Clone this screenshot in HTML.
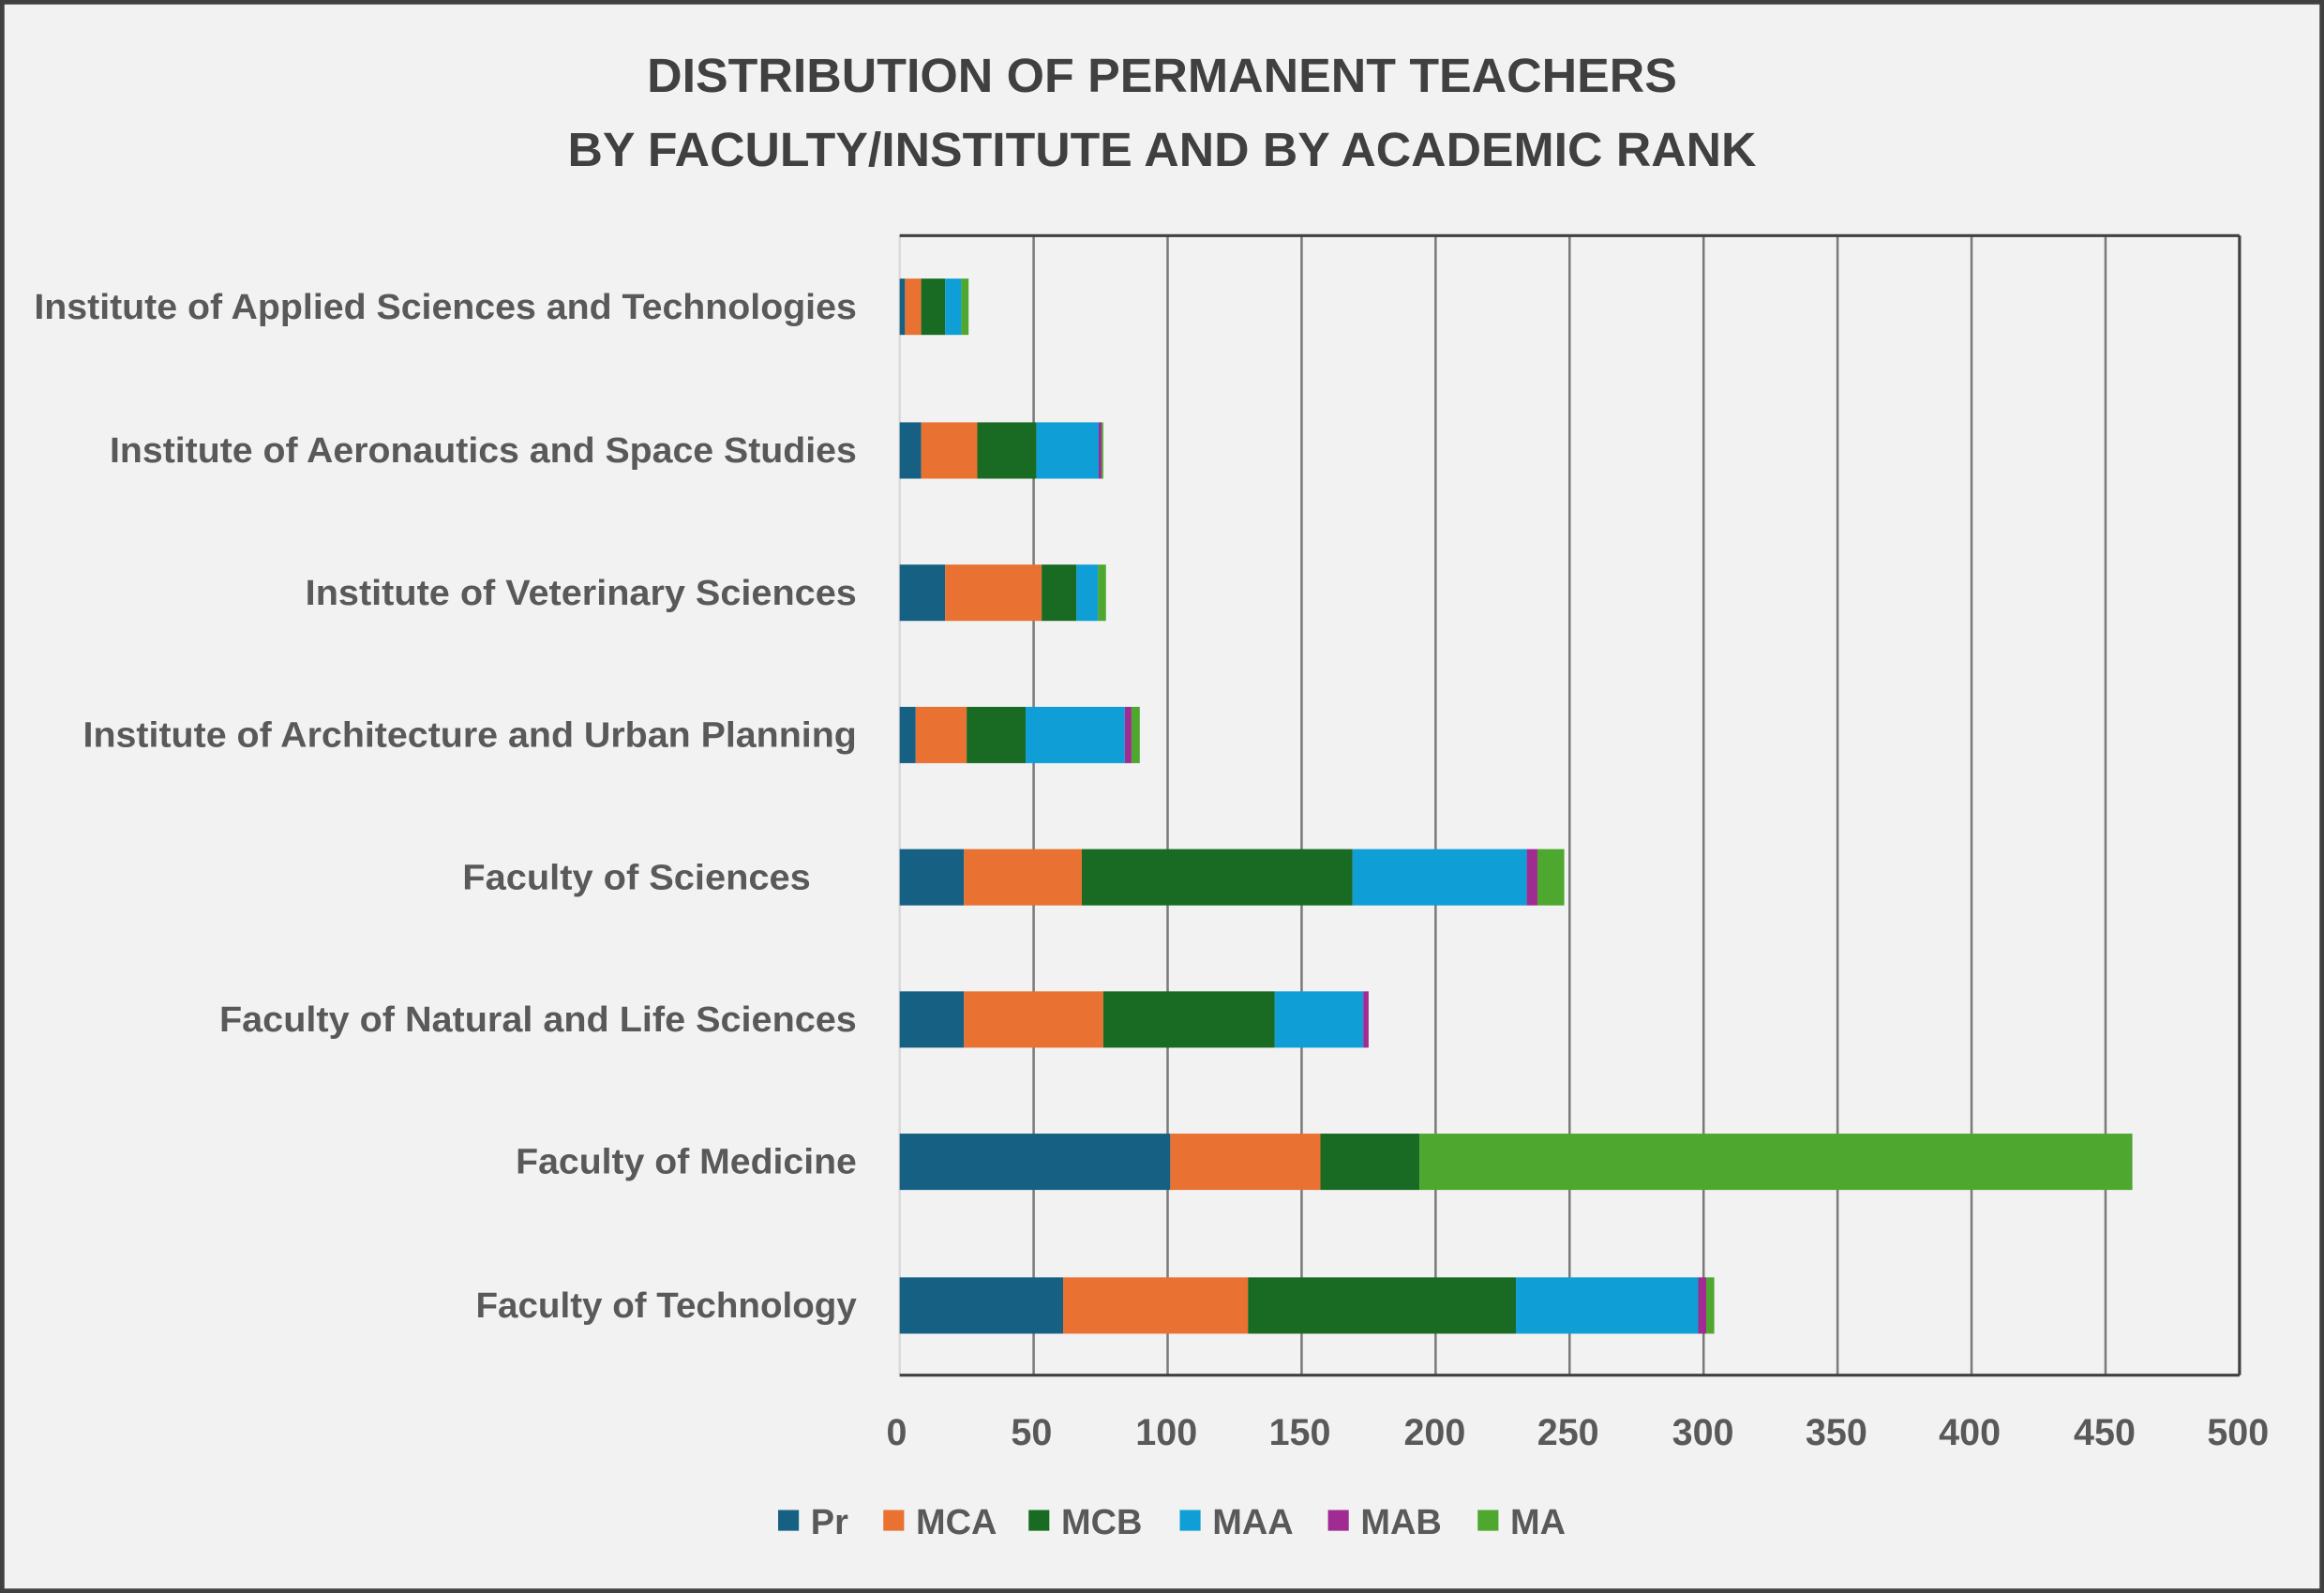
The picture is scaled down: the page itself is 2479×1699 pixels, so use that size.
<!DOCTYPE html>
<html><head><meta charset="utf-8"><style>
html,body{margin:0;padding:0;background:#f2f2f2;}
svg{display:block;}
text{font-family:"Liberation Sans Narrow","Liberation Sans",sans-serif;font-weight:bold;}
</style></head><body>
<svg width="2479" height="1699" viewBox="0 0 1568 1075" preserveAspectRatio="none" xmlns="http://www.w3.org/2000/svg">
<rect x="0" y="0" width="1568" height="1075" fill="#f2f2f2"/>
<rect x="1.5" y="1.5" width="1565" height="1072" fill="none" stroke="#404040" stroke-width="3"/>
<text x="784" y="62" text-anchor="middle" font-size="32" fill="#404040" font-family="Liberation Sans" textLength="695" lengthAdjust="spacingAndGlyphs">DISTRIBUTION OF PERMANENT TEACHERS</text>
<text x="784" y="112" text-anchor="middle" font-size="32" fill="#404040" font-family="Liberation Sans" textLength="802" lengthAdjust="spacingAndGlyphs">BY FACULTY/INSTITUTE AND BY ACADEMIC RANK</text>
<g stroke="#7a7a7a" stroke-width="1.6">
<line x1="697.4" y1="159" x2="697.4" y2="928"/><line x1="787.8" y1="159" x2="787.8" y2="928"/>
<line x1="878.2" y1="159" x2="878.2" y2="928"/><line x1="968.6" y1="159" x2="968.6" y2="928"/>
<line x1="1059" y1="159" x2="1059" y2="928"/><line x1="1149.4" y1="159" x2="1149.4" y2="928"/>
<line x1="1239.8" y1="159" x2="1239.8" y2="928"/><line x1="1330.2" y1="159" x2="1330.2" y2="928"/>
<line x1="1420.6" y1="159" x2="1420.6" y2="928"/>
</g>
<line x1="607" y1="159" x2="607" y2="928" stroke="#d9d9d9" stroke-width="1.5"/>
<line x1="607" y1="159" x2="1511" y2="159" stroke="#404040" stroke-width="2"/>
<line x1="1511" y1="159" x2="1511" y2="928" stroke="#404040" stroke-width="2"/>
<line x1="607" y1="928" x2="1511" y2="928" stroke="#404040" stroke-width="2"/>
<g transform="translate(0,188)">
<rect x="607" width="3.6" height="38" fill="#166083"/><rect x="610.6" width="10.9" height="38" fill="#e97132"/><rect x="621.5" width="16.2" height="38" fill="#196b24"/><rect x="637.7" width="10.9" height="38" fill="#0f9ed5"/><rect x="648.6" width="4.9" height="38" fill="#4ea72e"/>
</g>
<g transform="translate(0,285)">
<rect x="607" width="14.5" height="38" fill="#166083"/><rect x="621.5" width="37.9" height="38" fill="#e97132"/><rect x="659.4" width="39.8" height="38" fill="#196b24"/><rect x="699.2" width="42.1" height="38" fill="#0f9ed5"/><rect x="741.3" width="2" height="38" fill="#a02b93"/><rect x="743.3" width="1.1" height="38" fill="#4ea72e"/>
</g>
<g transform="translate(0,381)">
<rect x="607" width="30.7" height="38" fill="#166083"/><rect x="637.7" width="65.1" height="38" fill="#e97132"/><rect x="702.8" width="23.5" height="38" fill="#196b24"/><rect x="726.3" width="14.5" height="38" fill="#0f9ed5"/><rect x="740.8" width="5.4" height="38" fill="#4ea72e"/>
</g>
<g transform="translate(0,477)">
<rect x="607" width="10.8" height="38" fill="#166083"/><rect x="617.8" width="34.4" height="38" fill="#e97132"/><rect x="652.2" width="39.8" height="38" fill="#196b24"/><rect x="692" width="66.9" height="38" fill="#0f9ed5"/><rect x="758.9" width="4.5" height="38" fill="#a02b93"/><rect x="763.4" width="5.6" height="38" fill="#4ea72e"/>
</g>
<g transform="translate(0,573)">
<rect x="607" width="43.4" height="38" fill="#166083"/><rect x="650.4" width="79.5" height="38" fill="#e97132"/><rect x="729.9" width="182.7" height="38" fill="#196b24"/><rect x="912.6" width="117.5" height="38" fill="#0f9ed5"/><rect x="1030.1" width="7.2" height="38" fill="#a02b93"/><rect x="1037.3" width="18.1" height="38" fill="#4ea72e"/>
</g>
<g transform="translate(0,669)">
<rect x="607" width="43.4" height="38" fill="#166083"/><rect x="650.4" width="94" height="38" fill="#e97132"/><rect x="744.4" width="115.7" height="38" fill="#196b24"/><rect x="860.1" width="59.7" height="38" fill="#0f9ed5"/><rect x="919.8" width="3.6" height="38" fill="#a02b93"/>
</g>
<g transform="translate(0,765)">
<rect x="607" width="182.6" height="38" fill="#166083"/><rect x="789.6" width="101.3" height="38" fill="#e97132"/><rect x="890.9" width="66.9" height="38" fill="#196b24"/><rect x="957.8" width="480.9" height="38" fill="#4ea72e"/>
</g>
<g transform="translate(0,862)">
<rect x="607" width="110.3" height="38" fill="#166083"/><rect x="717.3" width="124.7" height="38" fill="#e97132"/><rect x="842" width="180.8" height="38" fill="#196b24"/><rect x="1022.8" width="123" height="38" fill="#0f9ed5"/><rect x="1145.8" width="5.4" height="38" fill="#a02b93"/><rect x="1151.2" width="5.4" height="38" fill="#4ea72e"/>
</g>
<g font-size="24" fill="#595959" text-anchor="end" font-family="Liberation Sans">
<text x="578" y="215" textLength="555" lengthAdjust="spacingAndGlyphs">Institute of Applied Sciences and Technologies</text>
<text x="578" y="312" textLength="504" lengthAdjust="spacingAndGlyphs">Institute of Aeronautics and Space Studies</text>
<text x="578" y="408" textLength="372" lengthAdjust="spacingAndGlyphs">Institute of Veterinary Sciences</text>
<text x="578" y="504" textLength="522" lengthAdjust="spacingAndGlyphs">Institute of Architecture and Urban Planning</text>
<text x="547" y="600" textLength="235" lengthAdjust="spacingAndGlyphs">Faculty of  Sciences</text>
<text x="578" y="696" textLength="430" lengthAdjust="spacingAndGlyphs">Faculty of  Natural and Life Sciences</text>
<text x="578" y="792" textLength="230" lengthAdjust="spacingAndGlyphs">Faculty of Medicine</text>
<text x="578" y="889" textLength="257" lengthAdjust="spacingAndGlyphs">Faculty of Technology</text>
</g>
<g font-size="25" fill="#595959" text-anchor="middle">
<text x="605" y="975">0</text><text x="696" y="975">50</text><text x="787" y="975">100</text>
<text x="877" y="975">150</text><text x="968" y="975">200</text><text x="1058" y="975">250</text>
<text x="1149" y="975">300</text><text x="1239" y="975">350</text><text x="1329" y="975">400</text>
<text x="1420" y="975">450</text><text x="1510" y="975">500</text>
</g>
<g font-size="24" fill="#595959">
<rect x="525" y="1019" width="14" height="14" fill="#166083"/><text x="547" y="1035">Pr</text>
<rect x="596" y="1019" width="14" height="14" fill="#e97132"/><text x="618" y="1035">MCA</text>
<rect x="694" y="1019" width="14" height="14" fill="#196b24"/><text x="716" y="1035">MCB</text>
<rect x="796" y="1019" width="14" height="14" fill="#0f9ed5"/><text x="818" y="1035">MAA</text>
<rect x="896" y="1019" width="14" height="14" fill="#a02b93"/><text x="918" y="1035">MAB</text>
<rect x="997" y="1019" width="14" height="14" fill="#4ea72e"/><text x="1019" y="1035">MA</text>
</g>
</svg>
</body></html>
